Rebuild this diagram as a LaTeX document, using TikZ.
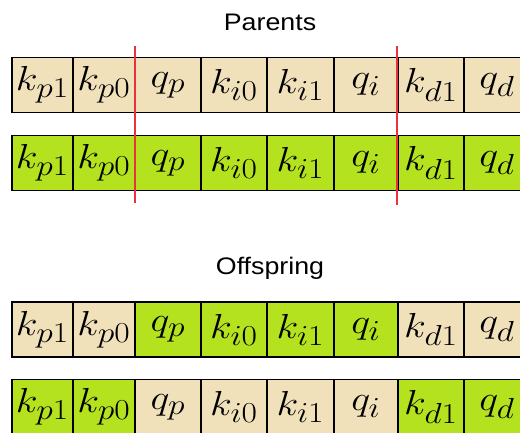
\documentclass[tikz,border=0pt]{standalone}
\usepackage[no-math]{fontspec}
\newfontfamily\titlefont{Liberation Sans}
\definecolor{beige}{RGB}{240,225,186}
\definecolor{lime}{RGB}{180,226,30}
\definecolor{cutred}{RGB}{232,50,60}
\newcommand\mcell[1]{\scalebox{1.62}[1.4]{$#1$}}
\tikzset{
  cellbox/.style={draw=black, line width=1.6bp, inner sep=0pt, minimum height=55bp,
    font=\Huge},
  bg/.style={cellbox, fill=beige},
  gr/.style={cellbox, fill=lime},
  title/.style={font=\titlefont\fontsize{24}{26}\selectfont, inner sep=0pt},
  cutline/.style={draw=cutred, line width=1.6bp}
}
\begin{document}
\begin{tikzpicture}[x=1bp,y=-1bp]
\clip (0,0) rectangle (520,432);
\fill[white] (0,0) rectangle (520,432);
% cell boundaries
\def\xs{{12,73,135,201,267,334,398,464,530}}
\def\labels{{"k_{p1}","k_{p0}","q_p","k_{i0}","k_{i1}","q_i","k_{d1}","q_d"}}
\node[title] (parents) at (270,22) {\scalebox{1.12}[1]{Parents}};
\node[title] (offspring) at (270,268) {\scalebox{1.12}[1]{Offspring}};
% rows: name, center y, styles
\foreach \r/\yc/\s in {
  1/85/{bg,bg,bg,bg,bg,bg,bg,bg},
  2/163/{gr,gr,gr,gr,gr,gr,gr,gr},
  3/329.5/{bg,bg,gr,gr,gr,gr,bg,bg},
  4/407/{gr,gr,bg,bg,bg,bg,gr,gr}}{
  \foreach \st [count=\i from 0] in \s {
    \pgfmathsetmacro\xa{\xs[\i]}
    \pgfmathsetmacro\xb{\xs[\i+1]}
    \pgfmathsetmacro\xc{(\xa+\xb)/2}
    \pgfmathsetmacro\w{\xb-\xa}
    \pgfmathsetmacro\lab{\labels[\i]}
    \node[\st, minimum width=\w bp] (r\r c\i) at (\xc,\yc) {\mcell{\lab}};
  }
}
\coordinate (cutAtop) at (135,46);
\coordinate (cutAbot) at (135,203);
\coordinate (cutBtop) at (397,46);
\coordinate (cutBbot) at (397,205);
\draw[cutline] (cutAtop) -- (cutAbot);
\draw[cutline] (cutBtop) -- (cutBbot);
\end{tikzpicture}
\end{document}
